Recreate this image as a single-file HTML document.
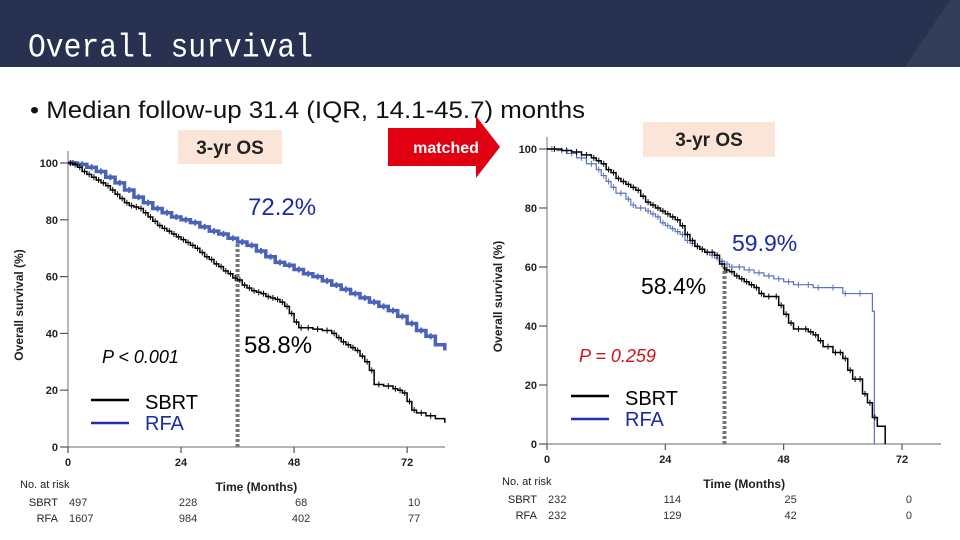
<!DOCTYPE html>
<html><head><meta charset="utf-8"><style>
html,body{margin:0;padding:0;background:#fff;}
svg{display:block;font-family:"Liberation Sans",sans-serif;}
</style></head><body>
<svg id="s" width="960" height="540" viewBox="0 0 960 540">
<rect x="0" y="0" width="960" height="67" fill="#283250"/>
<polygon points="905,67 950,0 960,0 960,67" fill="#333d5a"/>
<text x="28" y="57" font-family="Liberation Mono,monospace" font-size="30" fill="#fff" textLength="285" lengthAdjust="spacingAndGlyphs" transform="translate(0,-6) scale(1,1.1)">Overall survival</text>
<text x="30" y="118" font-size="24" fill="#111" textLength="555" lengthAdjust="spacingAndGlyphs">• Median follow-up 31.4 (IQR, 14.1-45.7) months</text>

<rect x="178" y="130" width="104" height="34" fill="#fbe5d8"/>
<text x="230" y="154" font-size="19" font-weight="bold" fill="#222" text-anchor="middle">3-yr OS</text>
<rect x="643" y="122" width="132" height="35" fill="#fbe5d8"/>
<text x="709" y="146" font-size="19" font-weight="bold" fill="#222" text-anchor="middle">3-yr OS</text>
<polygon points="388,128 476,128 476,116 500,147 476,178 476,166 388,166" fill="#e00012"/>
<text x="446" y="153" font-size="16" font-weight="bold" fill="#fff" text-anchor="middle">matched</text>
<g id="charts"></g>
</svg>
<script>
// Left chart (all patients)
const leftSbrtT=[0,1,2,3,4,5,6,7,8,9,10,11,12,13,14,15,16,17,18,19,20,21,22,23,24,25,26,27,28,29,30,31,32,33,34,35,36,37,38,39,40,41,42,43,44,45,46,47,48,49,50,52,54,56,57,58,59,60,61,62,63,64,65,67,69,70,71,72,73,74,76,78,80];
const leftSbrtS=[100,99.5,98.5,97,96,95,94,93,92,90.5,89,87.5,86,85,84.5,84,82.5,81,79.5,78,77,76,75,74,73,72,71,70,68.5,67,66,64.5,63.5,62,61,59.5,58.8,57,56,55,54.5,54,53,52.5,52,51,49.5,47,44,42,42,41.5,41,40,38.5,37,36,35,34,32,30,27,22,21.5,20.5,20,19,16,13,12,11,10,8.5];
const leftRfaT=[0,2,4,6,8,10,12,14,16,18,20,22,24,26,28,30,32,34,36,38,40,42,44,46,48,50,52,54,56,58,60,62,64,66,68,70,72,74,76,78,80];
const leftRfaS=[100,99.5,98.5,97,95,93,90.5,88,86,84,82.5,81,80,79,77.5,76,75,73.5,72.2,71,69,67,65,64,62.5,61,60,58.5,57,55.5,54,52.5,51,49.5,48,46,43.5,41,39,36,34];
// Right chart (matched)
const rightSbrtT=[0,3,5,7,9,10,11,12,13,14,15,16,17,18,19,20,21,22,23,24,25,26,27,28,29,30,31,32,33,34,35,36,37,38,39,40,41,42,43,44,46,47,48,49,50,52,53,54,55,56,58,59,60,61,62,63,64,65,66,67,68.6];
const rightSbrtS=[100,99.5,99,98,97,96,95,93,92,90,89,88,87,86,84,82,81,80,79,78,77,76,74,71,69,67,66,65,65,64,61,59,58.4,57,56,55,54,53,51,50,50,47,44,41,39,39,38,37,35,33,31,31,29,25,22,22,17,14,9,6,3,0];
const rightRfaT=[0,2,4,6,8,10,11,12,13,14,16,17,18,20,21,22,23,24,25,26,27,28,29,30,31,32,33,34,35,36,37,38,40,42,44,46,48,50,52,54,56,60,61,66,66.4];
const rightRfaS=[100,99.5,98.5,97,95,93,91,89,87,85,83,81,80,79,78,77,75,74,73,72,71,69,68,67,66,65,64,63,62,61,60,60,59,58,57,56,55,54,54,53,53,51,51,45,0];
const yTicks=[0,20,40,60,80,100];
const xTicks=[0,24,48,72];
const leftRiskSbrt=["497","228","68","10"];
const leftRiskRfa=["1607","984","402","77"];
const rightRiskSbrt=["232","114","25","0"];
const rightRiskRfa=["232","129","42","0"];

const NS="http://www.w3.org/2000/svg";
const G=document.getElementById('charts');
function el(tag,attrs,parent,txt){const e=document.createElementNS(NS,tag);for(const k in attrs)e.setAttribute(k,attrs[k]);if(txt!==undefined)e.textContent=txt;(parent||G).appendChild(e);return e;}

function chart(cfg){
  const g=el('g',{});
  
  
  const X=t=>cfg.x0+t*cfg.xs, Y=s=>cfg.y0-s*cfg.ys;
  const ax=el('path',{d:`M${cfg.x0},${Y(100)-12}V${cfg.y0}H${cfg.xEnd}`,stroke:'#888',fill:'none','stroke-width':1.2},g);
  
  
  yTicks.forEach(v=>{
    const tk=el('path',{d:`M${cfg.x0-8},${Y(v)}H${cfg.x0}`,stroke:'#555','stroke-width':1.2},g);
    
    
    const tl=el('text',{x:cfg.x0-10,y:Y(v)+4,'font-size':11,'font-weight':'bold','text-anchor':'end',fill:'#222'},g,String(v));
    
    
  });
  xTicks.forEach(v=>{
    const tk=el('path',{d:`M${X(v)},${cfg.y0}V${cfg.y0+6}`,stroke:'#555','stroke-width':1.2},g);
    
    
    const tl=el('text',{x:X(v),y:cfg.y0+19,'font-size':11,'font-weight':'bold','text-anchor':'middle',fill:'#222'},g,String(v));
    
    
  });
  const yt=el('text',{transform:`translate(${cfg.x0-45},${Y(50)}) rotate(-90)`,'font-size':12,'font-weight':'bold','text-anchor':'middle',fill:'#222'},g,'Overall survival (%)');
  
  
  const xt=el('text',{x:X(40),y:cfg.y0+44,'font-size':12,'font-weight':'bold','text-anchor':'middle',fill:'#222'},g,'Time (Months)');
  
  
  const dl=el('path',{d:`M${X(36)},${cfg.y0}V${Y(cfg.dashTop)}`,stroke:'#777','stroke-width':4,'stroke-dasharray':'3,2'},g);
  
  
  function series(T,S,color,w,name,cw){
    let d=`M${X(T[0])},${Y(S[0])}`;
    for(let i=1;i<T.length;i++){d+=`H${X(T[i])}V${Y(S[i])}`;}
    if(S.length>T.length){d+=`V${Y(S[S.length-1])}`;}
    const p=el('path',{d:d,stroke:color,fill:'none','stroke-width':w},g);
    
    
    let c='';
    for(let i=1;i<T.length-1;i++){if(S[i]>0){const xm=(X(T[i-1])+X(T[i]))/2;c+=`M${xm},${Y(S[i-1])-3}v6`;}}
    const cm=el('path',{d:c,stroke:color,fill:'none','stroke-width':cw},g);
    
    
  }
  series(cfg.rT,cfg.rS,cfg.rfaColor,cfg.rfaW,'rfa',cfg.rfaCW);
  series(cfg.sT,cfg.sS,'#000',1.5,'sbrt',1);
  const l1=el('path',{d:`M${cfg.lx},${cfg.ly}h38`,stroke:'#000','stroke-width':2.5},g);
  
  
  const t1=el('text',{x:cfg.lx+54,y:cfg.ly+9,'font-size':20,fill:'#000'},g,'SBRT');
  
  
  const l2=el('path',{d:`M${cfg.lx},${cfg.ly+23}h38`,stroke:'#2030b0','stroke-width':2.5},g);
  
  
  const t2=el('text',{x:cfg.lx+54,y:cfg.ly+30,'font-size':20,fill:'#1a2aa8'},g,'RFA');
  
  
  const rt=el('text',{x:cfg.riskX,y:cfg.y0+41,'font-size':11,fill:'#222'},g,'No. at risk');
  
  
  const a=el('text',{x:cfg.x0-10,y:cfg.y0+59,'font-size':11,'text-anchor':'end',fill:'#222'},g,'SBRT');
  
  
  const b=el('text',{x:cfg.x0-10,y:cfg.y0+75,'font-size':11,'text-anchor':'end',fill:'#222'},g,'RFA');
  
  
  xTicks.forEach((v,i)=>{
    const xx=i===0?cfg.x0+1:X(v)+7;
    const r1=el('text',{x:xx,y:cfg.y0+59,'font-size':11,'text-anchor':i===0?'start':'middle',fill:'#333'},g,cfg.riskS[i]);
    
    
    const r2=el('text',{x:xx,y:cfg.y0+75,'font-size':11,'text-anchor':i===0?'start':'middle',fill:'#333'},g,cfg.riskR[i]);
    
    
  });
  return g;
}
chart({name:'left-km-chart',x0:68,y0:447,xs:4.71,ys:2.84,xEnd:445,dashTop:72.2,sT:leftSbrtT,sS:leftSbrtS,rT:leftRfaT,rS:leftRfaS,rfaColor:'#4a63b8',rfaW:3.5,rfaCW:2,lx:91,ly:400,riskX:20,riskS:leftRiskSbrt,riskR:leftRiskRfa});
chart({name:'right-km-chart',x0:547,y0:444,xs:4.93,ys:2.95,xEnd:941,dashTop:60,sT:rightSbrtT,sS:rightSbrtS,rT:rightRfaT,rS:rightRfaS,rfaColor:'#5a72c0',rfaW:1.2,rfaCW:1,lx:571,ly:396,riskX:502,riskS:rightRiskSbrt,riskR:rightRiskRfa});
</script>
<div style="position:absolute;left:0;top:0;width:960px;height:540px;pointer-events:none">
<div style="position:absolute;left:248px;top:194px;font:24px 'Liberation Sans',sans-serif;color:#1a2aa8">72.2%</div>
<div style="position:absolute;left:244px;top:332px;font:24px 'Liberation Sans',sans-serif;color:#000">58.8%</div>
<div style="position:absolute;left:102px;top:347px;font:italic 18px 'Liberation Sans',sans-serif;color:#000">P &lt; 0.001</div>
<div style="position:absolute;left:732px;top:230px;font:23px 'Liberation Sans',sans-serif;color:#1a2aa8">59.9%</div>
<div style="position:absolute;left:641px;top:273px;font:23px 'Liberation Sans',sans-serif;color:#000">58.4%</div>
<div style="position:absolute;left:579px;top:346px;font:italic 18px 'Liberation Sans',sans-serif;color:#d0101a">P = 0.259</div>
</div>
</body></html>
